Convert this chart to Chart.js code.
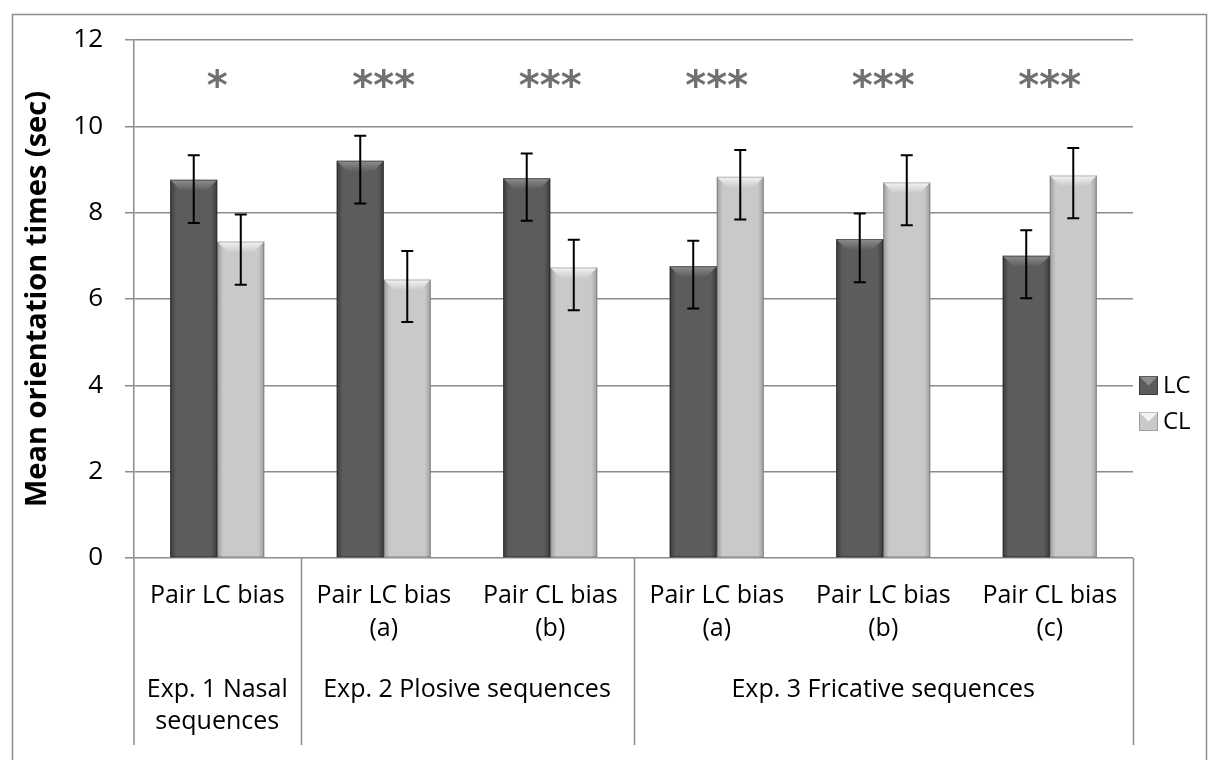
<!DOCTYPE html>
<html>
<head>
<meta charset="utf-8">
<script src="https://cdn.jsdelivr.net/npm/chart.js@4/dist/chart.umd.min.js"></script>
<style>
html,body{margin:0;padding:0;background:#fff;}
#c{display:block;}
</style>
</head>
<body>
<canvas id="c" width="1208" height="760"></canvas>
<script>
// ---- data ----
const categories = [
  ["Pair LC bias"],
  ["Pair LC bias", "(a)"],
  ["Pair CL bias", "(b)"],
  ["Pair LC bias", "(a)"],
  ["Pair LC bias", "(b)"],
  ["Pair CL bias", "(c)"]
];
const groupLabels = [["Exp. 1 Nasal", "sequences"], ["Exp. 2 Plosive sequences"], ["Exp. 3 Fricative sequences"]];
const groupSizes = [1, 2, 3];
const seriesNames = ["LC", "CL"];
const lcValues = [8.76, 9.20, 8.80, 6.76, 7.39, 7.00];
const clValues = [7.33, 6.45, 6.73, 8.83, 8.70, 8.86];
const lcUpper = [9.33, 9.78, 9.37, 7.35, 7.98, 7.59];
const lcLower = [7.76, 8.21, 7.81, 5.78, 6.39, 6.02];
const clUpper = [7.96, 7.11, 7.37, 9.45, 9.33, 9.50];
const clLower = [6.33, 5.47, 5.74, 7.84, 7.71, 7.87];
const significance = ["*", "***", "***", "***", "***", "***"];
const yTitle = "Mean orientation times (sec)";

const FONT = "'Open Sans', 'Noto Sans', sans-serif";
const styles = [
  {fill: '#5c5c5c', light: '#8e8e8e', edge: 'rgba(0,0,0,0.35)'},
  {fill: '#c9c9c9', light: '#f4f4f4', edge: 'rgba(0,0,0,0.22)'}
];

const decorPlugin = {
  id: 'decor',
  beforeDraw(chart) {
    const ctx = chart.ctx;
    ctx.save();
    ctx.fillStyle = '#fff';
    ctx.fillRect(0, 0, chart.width, chart.height);
    ctx.strokeStyle = '#8c8c8c';
    ctx.lineWidth = 1.5;
    ctx.beginPath();
    ctx.moveTo(12.5, chart.height);
    ctx.lineTo(12.5, 14.5);
    ctx.lineTo(chart.width - 1.5, 14.5);
    ctx.lineTo(chart.width - 1.5, chart.height);
    ctx.stroke();
    ctx.restore();
  },
  afterDatasetsDraw(chart) {
    const ctx = chart.ctx;
    const y = chart.scales.y;
    const errs = [[lcUpper, lcLower], [clUpper, clLower]];
    ctx.save();
    chart.data.datasets.forEach((ds, di) => {
      const meta = chart.getDatasetMeta(di);
      const st = styles[di];
      meta.data.forEach((bar, i) => {
        const w = bar.width, l = bar.x - w / 2, r = bar.x + w / 2, t = bar.y, b = bar.base;
        let g = ctx.createLinearGradient(l, 0, l + 6, 0);
        g.addColorStop(0, st.edge); g.addColorStop(1, 'rgba(0,0,0,0)');
        ctx.fillStyle = g; ctx.fillRect(l, t, 6, b - t);
        g = ctx.createLinearGradient(r, 0, r - 6, 0);
        g.addColorStop(0, st.edge); g.addColorStop(1, 'rgba(0,0,0,0)');
        ctx.fillStyle = g; ctx.fillRect(r - 6, t, 6, b - t);
        const bv = 11;
        g = ctx.createLinearGradient(0, t, 0, t + bv);
        g.addColorStop(0, st.light); g.addColorStop(1, st.fill);
        ctx.fillStyle = g;
        ctx.beginPath();
        ctx.moveTo(l, t); ctx.lineTo(r, t); ctx.lineTo(r - bv, t + bv); ctx.lineTo(l + bv, t + bv); ctx.closePath();
        ctx.fill();
        ctx.strokeStyle = st.edge; ctx.lineWidth = 1;
        ctx.strokeRect(l + 0.5, t + 0.5, w - 1, b - t - 1);
        const hi = y.getPixelForValue(errs[di][0][i]);
        const lo = y.getPixelForValue(errs[di][1][i]);
        ctx.strokeStyle = '#000'; ctx.lineWidth = 2;
        ctx.beginPath();
        ctx.moveTo(bar.x, hi); ctx.lineTo(bar.x, lo);
        ctx.moveTo(bar.x - 6, hi); ctx.lineTo(bar.x + 6, hi);
        ctx.moveTo(bar.x - 6, lo); ctx.lineTo(bar.x + 6, lo);
        ctx.stroke();
      });
    });
    ctx.restore();
  },
  afterDraw(chart) {
    const ctx = chart.ctx;
    const x = chart.scales.x, y = chart.scales.y;
    const area = chart.chartArea;
    const n = categories.length;
    const step = (area.right - area.left) / n;
    const bottom = 745;
    ctx.save();
    // significance stars
    ctx.fillStyle = '#707070';
    ctx.font = "bold 40px 'DejaVu Sans', sans-serif";
    ctx.textAlign = 'center'; ctx.textBaseline = 'middle';
    significance.forEach((s, i) => {
      ctx.fillText(s, x.getPixelForValue(i), y.getPixelForValue(11.05) + 8);
    });
    // category labels
    ctx.fillStyle = '#000';
    ctx.font = "25px " + FONT;
    categories.forEach((lines, i) => {
      lines.forEach((ln, k) => ctx.fillText(ln, x.getPixelForValue(i), area.bottom + 38 + k * 33));
    });
    ctx.strokeStyle = '#8c8c8c'; ctx.lineWidth = 1.5;
    ctx.beginPath();
    ctx.moveTo(area.left, area.bottom); ctx.lineTo(area.left, bottom);
    let start = 0;
    groupSizes.forEach((sz, gi) => {
      const xe = area.left + (start + sz) * step;
      ctx.moveTo(Math.round(xe) + 0.5, area.bottom); ctx.lineTo(Math.round(xe) + 0.5, bottom);
      const cx = area.left + (start + sz / 2) * step;
      groupLabels[gi].forEach((ln, k) => ctx.fillText(ln, cx, area.bottom + 132 + k * 32));
      start += sz;
    });
    ctx.stroke();
    // legend
    const ly = [386, 422];
    seriesNames.forEach((nm, i) => {
      const st = styles[i];
      const sx = 1139, sy = ly[i] - 10, sz = 19;
      ctx.fillStyle = st.fill; ctx.fillRect(sx, sy, sz, sz);
      ctx.fillStyle = st.light;
      ctx.beginPath(); ctx.moveTo(sx, sy); ctx.lineTo(sx + sz, sy); ctx.lineTo(sx + sz / 2, sy + sz / 2); ctx.closePath(); ctx.fill();
      ctx.strokeStyle = st.edge; ctx.lineWidth = 1; ctx.strokeRect(sx + 0.5, sy + 0.5, sz - 1, sz - 1);
      ctx.fillStyle = '#000'; ctx.font = "24px " + FONT; ctx.textAlign = 'left';
      ctx.fillText(nm, 1163, ly[i]);
    });
    ctx.restore();
  }
};

new Chart(document.getElementById('c'), {
  type: 'bar',
  data: {
    labels: categories,
    datasets: [
      {label: seriesNames[0], data: lcValues, backgroundColor: styles[0].fill},
      {label: seriesNames[1], data: clValues, backgroundColor: styles[1].fill}
    ]
  },
  options: {
    responsive: false,
    animation: false,
    devicePixelRatio: 1,
    layout: {padding: {top: 40, right: 75, bottom: 202, left: 0}},
    datasets: {bar: {categoryPercentage: 0.565, barPercentage: 1.0}},
    plugins: {legend: {display: false}, tooltip: {enabled: false}},
    scales: {
      x: {
        grid: {display: false, drawTicks: false},
        border: {display: false},
        ticks: {display: false}
      },
      y: {
        min: 0, max: 12,
        ticks: {stepSize: 2, color: '#000', padding: 22, font: {family: FONT, size: 26}},
        grid: {color: '#8c8c8c', lineWidth: 1.5, tickLength: 9},
        border: {color: '#8c8c8c', width: 1.5},
        title: {display: true, text: yTitle, color: '#000', font: {family: FONT, size: 29, weight: 'bold'}, padding: {top: 20, bottom: 0}},
        afterFit(s) { s.width = 134; }
      }
    }
  },
  plugins: [decorPlugin]
});
</script>
</body>
</html>
